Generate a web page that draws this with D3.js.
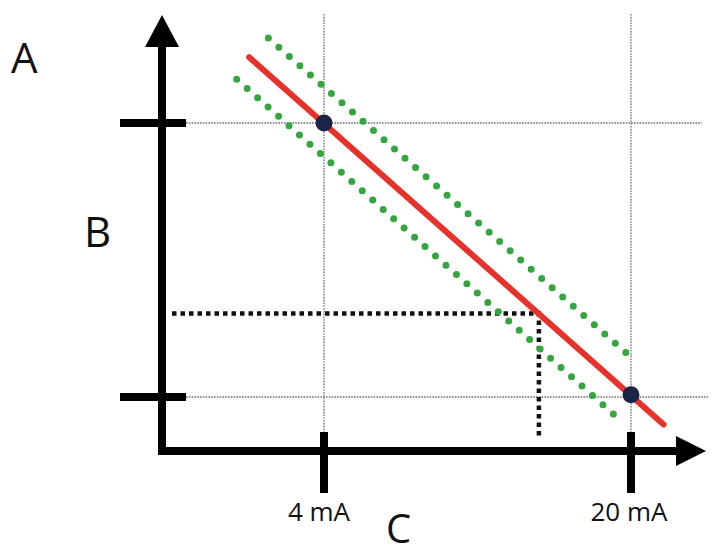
<!DOCTYPE html>
<html>
<head>
<meta charset="utf-8">
<script src="https://cdn.jsdelivr.net/npm/d3@7"></script>
<style>
  html, body { margin: 0; padding: 0; background: #fff; }
  svg { display: block; }
  text { font-family: "Open Sans", "Noto Sans", sans-serif; fill: #111; }
</style>
</head>
<body>
<svg id="chart" width="712" height="555"></svg>
<script>
// ---- data (x in mA, y in output units 0..100) ----
const xTicks = [4, 20];
const xTickLabels = ["4 mA", "20 mA"];
const yTicks = [0, 100];
const calPoints = [[4, 100], [20, 0.8]];
const redLine = [[0.1, 124], [21.7, -10]];
const upperBand = [[1.1, 131], [20.1, 14]];
const lowerBand = [[-0.55, 116], [19.45, -8.5]];
const reading = [15.2, 30.5];
const axisLabels = ["A", "B", "C"];

// ---- layout ----
const W = 712, H = 555;
const svg = d3.select("#chart");
const x = d3.scaleLinear().domain([4, 20]).range([324, 631]);
const y = d3.scaleLinear().domain([0, 100]).range([397, 123]);
const axX = 162, axY = 451;

// gridlines
const grid = svg.append("g").attr("stroke", "#6f6f6f").attr("stroke-width", 1.3)
  .attr("stroke-dasharray", "1.6 1.2").attr("fill", "none");
yTicks.forEach((v, i) => {
  grid.append("line").attr("x1", 186).attr("x2", i === 0 ? 708 : 702)
    .attr("y1", y(v)).attr("y2", y(v));
});
xTicks.forEach(v => {
  grid.append("line").attr("x1", x(v)).attr("x2", x(v)).attr("y1", 14).attr("y2", 432);
});

// axes
const ax = svg.append("g");
ax.append("line").attr("x1", axX).attr("x2", axX).attr("y1", axY + 4).attr("y2", 44)
  .attr("stroke", "#000").attr("stroke-width", 8);
ax.append("line").attr("x1", axX - 4).attr("x2", 680).attr("y1", axY).attr("y2", axY)
  .attr("stroke", "#000").attr("stroke-width", 8);
ax.append("path").attr("d", `M${axX},15 L${axX + 17},47 L${axX - 17},47 Z`).attr("fill", "#000");
ax.append("path").attr("d", `M706,${axY} L676,${axY - 15} L676,${axY + 15} Z`).attr("fill", "#000");

// ticks
yTicks.forEach(v => {
  ax.append("line").attr("x1", 120).attr("x2", 186).attr("y1", y(v)).attr("y2", y(v))
    .attr("stroke", "#000").attr("stroke-width", 8);
});
xTicks.forEach(v => {
  ax.append("line").attr("x1", x(v)).attr("x2", x(v)).attr("y1", 432).attr("y2", 493)
    .attr("stroke", "#000").attr("stroke-width", 8);
});

const line = d3.line().x(d => x(d[0])).y(d => y(d[1]));

// reading dotted lines
svg.append("path")
  .attr("d", line([[x.invert(172), reading[1]], reading, [reading[0], y.invert(438)]]))
  .attr("fill", "none").attr("stroke", "#111").attr("stroke-width", 4.5)
  .attr("stroke-dasharray", "4.5 4");

// tolerance band
[upperBand, lowerBand].forEach(b => {
  svg.append("path").attr("d", line(b)).attr("fill", "none")
    .attr("stroke", "#35a53f").attr("stroke-width", 7)
    .attr("stroke-linecap", "round").attr("stroke-dasharray", "0 14");
});

// red transfer line
svg.append("path").attr("d", line(redLine)).attr("fill", "none")
  .attr("stroke", "#e5322b").attr("stroke-width", 6).attr("stroke-linecap", "round");

// calibration points
svg.selectAll("circle.pt").data(calPoints).join("circle")
  .attr("class", "pt").attr("cx", d => x(d[0])).attr("cy", d => y(d[1])).attr("r", 8.5)
  .attr("fill", "#1b2647");

// labels
xTicks.forEach((v, i) => {
  svg.append("text").attr("x", x(v) - (i === 0 ? 5 : 2)).attr("y", 521)
    .attr("text-anchor", "middle").attr("font-size", 26).text(xTickLabels[i]);
});
svg.append("text").attr("x", 11).attr("y", 73).attr("font-size", 42).text(axisLabels[0]);
svg.append("text").attr("x", 84).attr("y", 247).attr("font-size", 42).text(axisLabels[1]);
svg.append("text").attr("x", 386).attr("y", 543).attr("font-size", 40).text(axisLabels[2]);
</script>
</body>
</html>
